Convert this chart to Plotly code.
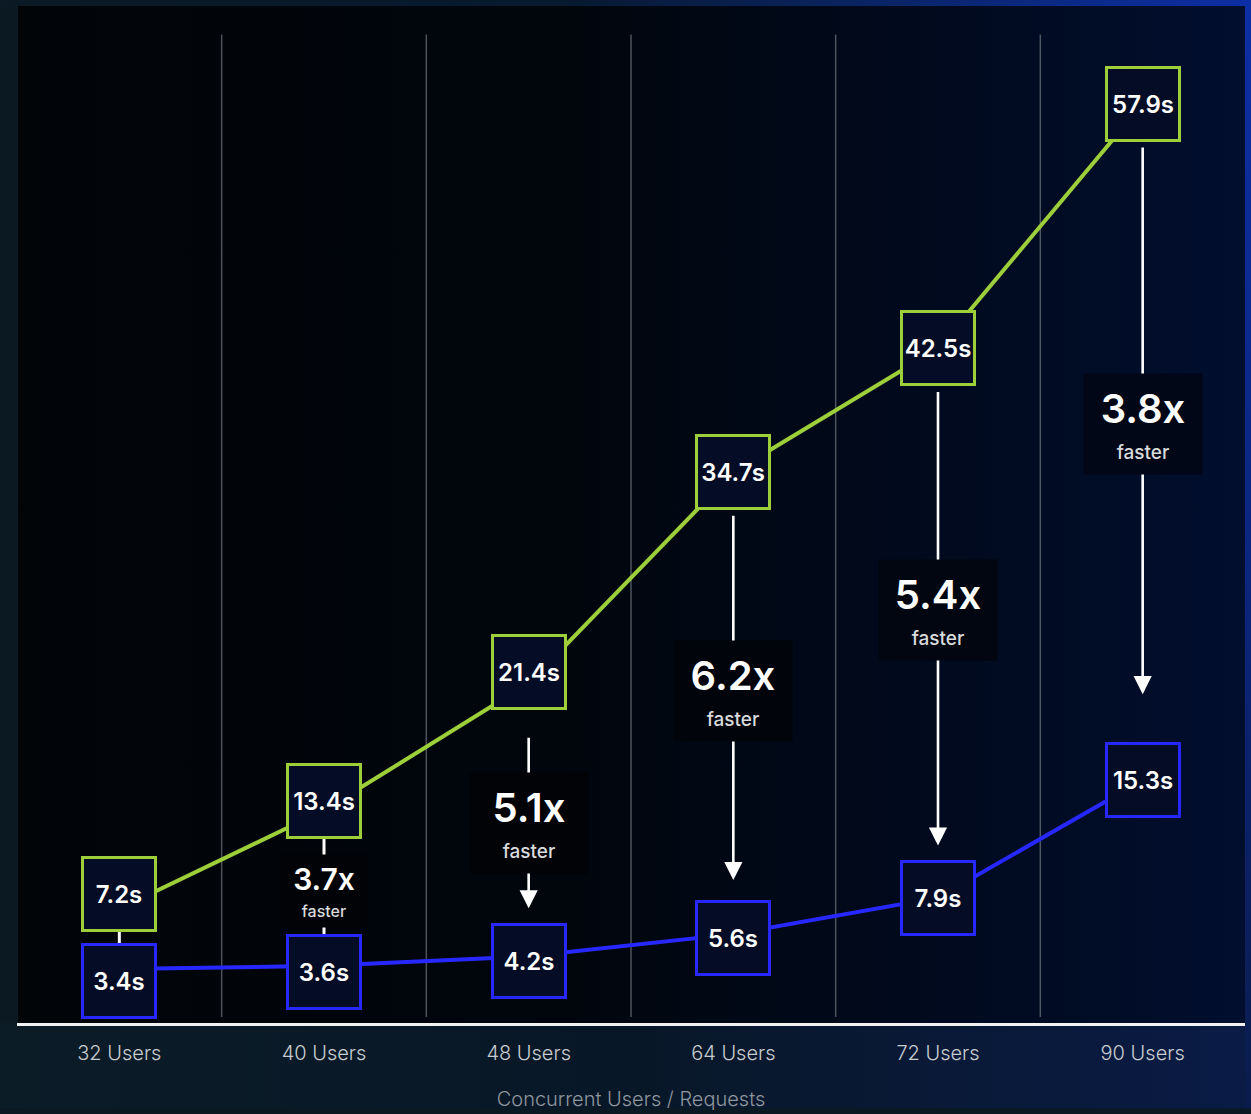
import base64
import plotly.graph_objects as go

# Response time per concurrency level (seconds)
users = ["32 Users", "40 Users", "48 Users", "64 Users", "72 Users", "90 Users"]
baseline_s = [7.2, 13.4, 21.4, 34.7, 42.5, 57.9]
accelerated_s = [3.4, 3.6, 4.2, 5.6, 7.9, 15.3]
speedup = ["", "3.7x", "5.1x", "6.2x", "5.4x", "3.8x"]

W, H = 1251, 1114
M = dict(l=17, r=6, t=6, b=86)
PLOT_W = W - M["l"] - M["r"]
PLOT_H = H - M["t"] - M["b"]
Y_MAX = PLOT_H / 15.95

GREEN = "#9dcf3b"
BLUE = "#2727ff"
BOX_FILL = "#050c26"
FONT = "Inter"
BOX_HALF = 38

# pixel nudges that keep the closely spaced boxes apart
green_nudge = [15, 9, 11, 0, 0, 0]
blue_nudge = [-12, -6, -5, -4, 0, 0]
# extra space left between each arrow tip and the box it points at
tip_gap = [0, 0, 5, 12, 14, 48]
# vertical offset of each speed-up caption from the pair's midpoint
caption_shift = [0, -3, -3, 12, 13, 18]

# horizontal colour ramp of the plot panel
panel_stops = [(0.0, (2, 5, 8)), (0.45, (1, 6, 13)), (0.75, (1, 10, 30)), (1.0, (1, 14, 46))]


def panel_rgb(frac):
    for (f0, c0), (f1, c1) in zip(panel_stops, panel_stops[1:]):
        if f0 <= frac <= f1:
            t = (frac - f0) / (f1 - f0)
            return tuple(a + (b - a) * t for a, b in zip(c0, c1))
    return panel_stops[-1][1]


def hexc(rgb):
    return "#" + "".join(f"{int(round(v)):02x}" for v in rgb)


stops_svg = "".join(f'<stop offset="{f}" stop-color="{hexc(c)}"/>' for f, c in panel_stops)

# background: framed dark panel with blue glow along top/right edges
svg = f"""<svg xmlns="http://www.w3.org/2000/svg" width="{W}" height="{H}" viewBox="0 0 {W} {H}">
<defs>
<linearGradient id="top" x1="0" y1="0" x2="1" y2="0">
<stop offset="0" stop-color="#0b1a24"/><stop offset="0.45" stop-color="#071a30"/>
<stop offset="0.75" stop-color="#0a2670"/><stop offset="1" stop-color="#0c2fa6"/></linearGradient>
<linearGradient id="right" x1="0" y1="0" x2="0" y2="1">
<stop offset="0" stop-color="#0c2fa6"/><stop offset="0.5" stop-color="#0b2680"/><stop offset="1" stop-color="#0a1c4c"/></linearGradient>
<linearGradient id="bottom" x1="0" y1="0" x2="1" y2="0">
<stop offset="0" stop-color="#0b1c27"/><stop offset="0.5" stop-color="#081727"/><stop offset="1" stop-color="#0a1b46"/></linearGradient>
<linearGradient id="panel" x1="0" y1="0" x2="1" y2="0">{stops_svg}</linearGradient>
</defs>
<rect x="0" y="0" width="{W}" height="{H}" fill="#0a1922"/>
<rect x="0" y="0" width="{W}" height="{M['t']}" fill="url(#top)"/>
<rect x="0" y="{H - M['b']}" width="{W}" height="{M['b']}" fill="url(#bottom)"/>
<rect x="{W - M['r']}" y="0" width="{M['r']}" height="{H}" fill="url(#right)"/>
<rect x="{M['l'] + 1}" y="{M['t']}" width="{PLOT_W - 1}" height="{PLOT_H}" fill="url(#panel)"/>
</svg>"""
bg_src = "data:image/svg+xml;base64," + base64.b64encode(svg.encode()).decode()

fig = go.Figure()

fig.add_trace(go.Scatter(x=users, y=baseline_s, mode="lines",
                         line=dict(color=GREEN, width=4), hoverinfo="skip",
                         showlegend=False))
fig.add_trace(go.Scatter(x=users, y=accelerated_s, mode="lines",
                         line=dict(color=BLUE, width=4), hoverinfo="skip",
                         showlegend=False))

shapes = []
# thin vertical separators between categories
for i in range(len(users) - 1):
    shapes.append(dict(type="line", xref="x", yref="paper", x0=i + 0.5, x1=i + 0.5,
                       y0=0.006, y1=0.972, line=dict(color="rgba(140,146,152,0.55)", width=1.5),
                       layer="below"))
# plain connectors where the pair sits close together
for i in (0, 1):
    shapes.append(dict(type="line", xref="x", yref="y", x0=i, x1=i,
                       y0=baseline_s[i], y1=accelerated_s[i],
                       line=dict(color="white", width=3)))

annotations = []
for i in range(1, len(users)):
    if i >= 2:
        # downward arrow from the baseline box to the accelerated box
        annotations.append(dict(x=i, y=accelerated_s[i], ax=i, ay=baseline_s[i],
                                xref="x", yref="y", axref="x", ayref="y", text="",
                                showarrow=True, arrowhead=2, arrowsize=1.4, arrowwidth=2.6,
                                arrowcolor="white",
                                standoff=BOX_HALF - blue_nudge[i] + tip_gap[i],
                                startstandoff=BOX_HALF + 4 + green_nudge[i]))
    mid = (baseline_s[i] + accelerated_s[i]) / 2
    small = i == 1
    big = 30 if small else 40
    sub = 16 if small else 19
    under = tuple(v * 0.55 for v in panel_rgb((i + 0.5) / len(users)))
    annotations.append(dict(
        x=i, y=mid, xref="x", yref="y", showarrow=False, yshift=caption_shift[i],
        text=(f'<span style="font-size:{big}px;font-weight:600">{speedup[i]}</span><br>'
              f'<span style="font-size:{sub}px;font-weight:500;color:#d8dadc">faster</span>'),
        font=dict(family=FONT, size=21 if small else 27, color="white"),
        bgcolor=hexc(under), width=84 if small else 116, height=70 if small else 98,
        align="center", valign="middle"))

for i in range(len(users)):
    annotations.append(dict(x=i, y=baseline_s[i], xref="x", yref="y", showarrow=False,
                            text=f"{baseline_s[i]}s", yshift=green_nudge[i],
                            font=dict(family=FONT, size=24, color="white", weight=600),
                            bgcolor=BOX_FILL, bordercolor=GREEN, borderwidth=3, borderpad=0,
                            width=70, height=70, align="center", valign="middle"))
    annotations.append(dict(x=i, y=accelerated_s[i], xref="x", yref="y", showarrow=False,
                            text=f"{accelerated_s[i]}s", yshift=blue_nudge[i],
                            font=dict(family=FONT, size=24, color="white", weight=600),
                            bgcolor=BOX_FILL, bordercolor=BLUE, borderwidth=3, borderpad=0,
                            width=70, height=70, align="center", valign="middle"))

fig.update_layout(
    width=W, height=H, margin=M,
    paper_bgcolor="#0a1922", plot_bgcolor="rgba(0,0,0,0)",
    images=[dict(source=bg_src, xref="paper", yref="paper",
                 x=-M["l"] / PLOT_W, y=1 + M["t"] / PLOT_H,
                 sizex=W / PLOT_W, sizey=H / PLOT_H, sizing="stretch",
                 xanchor="left", yanchor="top", layer="below")],
    shapes=shapes, annotations=annotations,
    xaxis=dict(type="category", categoryorder="array", categoryarray=users,
               range=[-0.5, len(users) - 0.5], showgrid=False, zeroline=False,
               showline=True, linecolor="#f2f2f2", linewidth=2.5, ticks="",
               ticklabelstandoff=10,
               tickfont=dict(family=FONT, size=20, color="#c7ccd1", weight=300),
               title=dict(text="Concurrent Users / Requests", standoff=29,
                          font=dict(family=FONT, size=20, color="#8e969e", weight=300))),
    yaxis=dict(range=[0, Y_MAX], visible=False, showgrid=False, zeroline=False),
)

fig.write_html("out.html")
